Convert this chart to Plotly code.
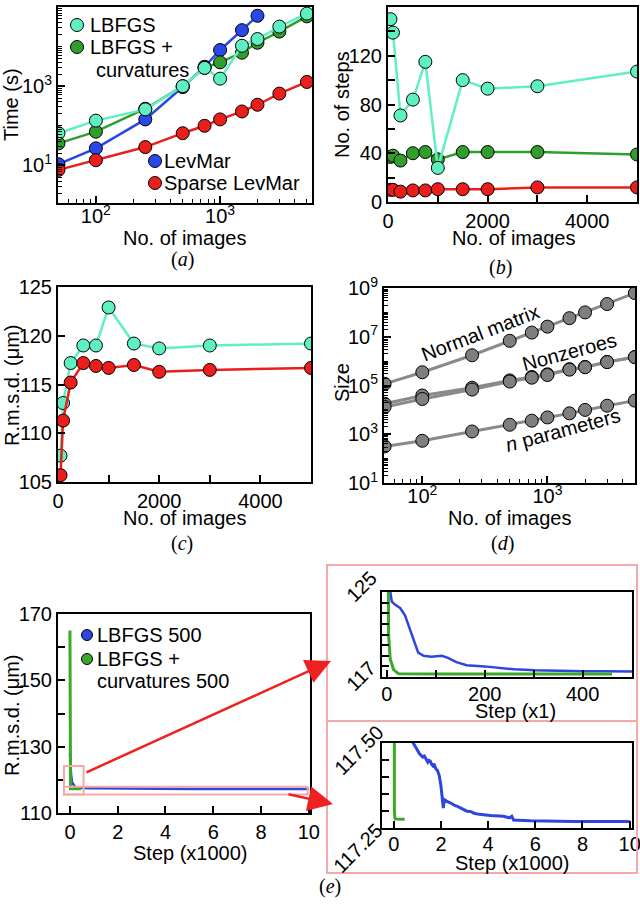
import plotly.graph_objects as go

W, H = 640, 905
SANS = "Liberation Sans, Arial, sans-serif"
SERIF = "Liberation Serif, Times New Roman, serif"

# ---------------- data ----------------
n_images = [50, 100, 250, 500, 750, 1000, 1500, 2000, 3000, 5000]
n_images_levmar = [50, 100, 250, 500, 750, 1000, 1500, 2000]

# (a) time (s)
time_lbfgs = [65, 135, 260, 1000, 2900, 1550, 10500, 15500, 32000, 68000]
time_lbfgs_curv = [36, 71, 270, 1000, 2900, 4000, 7000, 12500, 24000, 58000]
time_levmar = [10.7, 27, 145, 950, 3100, 8200, 26000, 60000]
time_sparse = [7.7, 13.5, 29, 65, 100, 145, 230, 340, 650, 1280]

# (b) number of steps
steps_lbfgs = [150, 139, 71, 84, 115, 28, 100, 93, 95, 107]
steps_curv = [37, 38, 34, 40, 41, 35, 41, 41, 41, 39]
steps_sparse = [10, 10, 8.5, 9.5, 9.5, 10.5, 10.5, 10.5, 12, 12]

# (c) r.m.s.d. (um)
rmsd_lbfgs = [107.7, 113.1, 117.2, 119.0, 119.0, 122.9, 119.2, 118.7, 119.0, 119.2]
rmsd_sparse = [105.7, 111.3, 115.2, 117.2, 116.9, 116.7, 117.0, 116.3, 116.5, 116.7]

# (d) sizes
size_normal = [1.17e5, 3.5e5, 1.74e6, 6.8e6, 1.48e7, 2.6e7, 5.8e7, 1.0e8, 2.2e8, 6.2e8]
size_nonzero_a = [17800, 39000, 81000, 162000, 224000, 288000, 468000, 575000, 933000, 1.48e6]
size_nonzero_b = [13200, 28000, 68000, 145000, 209000, 269000, 447000, 562000, 912000, 1.45e6]
size_nparams = [316, 540, 1300, 2450, 3600, 4900, 7200, 10000, 14800, 24000]

# (e) r.m.s.d. vs step (500 images)
blue_steps = [0, 3, 7, 10, 17, 27, 37, 44, 51, 58, 64, 75, 91, 112, 125, 142, 163, 200,
              234, 261, 302, 349, 403, 444, 500, 700, 810, 1020, 1100, 1160, 1230, 1300,
              1380, 1440, 1500, 1550, 1600, 1650, 1700, 1790, 1850, 1930, 2000, 2070, 2100,
              2140, 2250, 2300, 2420, 2500, 2600, 2700, 2840, 2950, 3100, 3250, 3400, 3550,
              3700, 3900, 4100, 4300, 4500, 4650, 4800, 4900, 5000, 5080, 5780, 7600, 10000]
blue_rmsd = [128.0, 126.0, 125.0, 124.1, 123.8, 123.5, 122.8, 121.9, 120.9, 119.9, 119.3,
             119.0, 118.9, 119.0, 118.8, 118.4, 118.1, 118.0, 117.86, 117.72, 117.64,
             117.58, 117.55, 117.53, 117.52, 117.51, 117.50, 117.472, 117.466, 117.462,
             117.457, 117.46, 117.448, 117.442, 117.447, 117.445, 117.436, 117.432, 117.437,
             117.422, 117.418, 117.402, 117.372, 117.327, 117.307, 117.332, 117.326, 117.325,
             117.322, 117.318, 117.314, 117.312, 117.307, 117.303, 117.298, 117.297, 117.292,
             117.290, 117.288, 117.287, 117.285, 117.284, 117.283, 117.283, 117.280, 117.278,
             117.283, 117.272, 117.270, 117.268, 117.268]
green_steps = [0, 2, 3.4, 6.8, 13.6, 24, 44, 64, 100, 200, 300, 460]
green_rmsd = [165, 128, 121, 118.7, 117.7, 117.3, 117.28, 117.275, 117.275, 117.275, 117.274, 117.274]

# tick values / labels
lin_ticks_images = [0, 2000, 4000]
lin_minor_images = [1000, 3000]
steps_ticks = [0, 40, 80, 120, 160]
steps_minor = [20, 60, 100, 140]
rmsd_ticks = [105, 110, 115, 120, 125]
e_x_ticks = [0, 2, 4, 6, 8, 10]
e_y_ticks = [110, 130, 150, 170]
e_y_minor = [120, 140, 160]
inset_top_x_ticks = [0, 200, 400]
inset_top_x_minor = [100, 300]
inset_top_y_ticks = [117, 118, 119, 120, 121, 122, 123, 124, 125]
inset_bot_y_ticks = [117.25, 117.30, 117.35, 117.40, 117.45, 117.50]
log_ticks_x = [100, 1000]
log_text_x = ["10<sup>2</sup>", "10<sup>3</sup>"]
log_ticks_a_y = [10, 1000, 1e5]
log_text_a_y = ["10<sup>1</sup>", "10<sup>3</sup>", "10<sup>5</sup>"]
log_ticks_d_y = [10, 1e3, 1e5, 1e7, 1e9]
log_text_d_y = ["10<sup>1</sup>", "10<sup>3</sup>", "10<sup>5</sup>", "10<sup>7</sup>", "10<sup>9</sup>"]
inset_top_labels = ["125", "117"]
inset_bot_labels = ["117.50", "117.25"]

# colours
C_AQUA = "#5ef0c3"
C_GREEN = "#2f9e2c"
C_BLUE = "#2848e8"
C_RED = "#ea1e1a"
C_GRAY = "#7f7f7f"
C_GRAYLINE = "#8a8a8a"
E_BLUE = "#2f45e0"
E_GREEN = "#3aa828"
PINK = "#f6a8a8"
ARROW = "#ee2020"


def dom_x(a, b):
    return [a / W, b / W]


def dom_y(top, bottom):
    return [1 - bottom / H, 1 - top / H]


def PX(x):
    return x / W


def PY(y):
    return 1 - y / H


def minor_log(lo, hi, skip=()):
    vals = []
    d = 1
    while d < hi * 10:
        for k in range(1, 10):
            v = k * d
            if lo <= v <= hi and v not in skip:
                vals.append(v)
        d *= 10
    return vals


def axis(**kw):
    base = dict(showline=True, linewidth=2, linecolor="black", mirror=True,
                ticks="inside", ticklen=7, tickwidth=1.5, tickcolor="black",
                showgrid=False, zeroline=False,
                tickfont=dict(size=20, family=SANS, color="black"))
    base.update(kw)
    return base


minor_small = dict(ticks="inside", ticklen=4, tickwidth=1, tickcolor="black")
minor_same = dict(ticks="inside", ticklen=7, tickwidth=1.5, tickcolor="black")

fig = go.Figure()


def line_marker(x, y, color, xa, ya, lw=2.5, msize=13):
    fig.add_trace(go.Scatter(x=x, y=y, mode="lines+markers", xaxis=xa, yaxis=ya,
                             line=dict(color=color, width=lw),
                             marker=dict(size=msize, color=color, line=dict(color="black", width=1)),
                             showlegend=False, hoverinfo="skip"))


# (a)
line_marker(n_images_levmar, time_levmar, C_BLUE, "x", "y")
line_marker(n_images, time_lbfgs_curv, C_GREEN, "x", "y")
line_marker(n_images, time_lbfgs, C_AQUA, "x", "y")
line_marker(n_images, time_sparse, C_RED, "x", "y")

# (b)
line_marker(n_images, steps_curv, C_GREEN, "x2", "y2")
line_marker(n_images, steps_lbfgs, C_AQUA, "x2", "y2")
line_marker(n_images, steps_sparse, C_RED, "x2", "y2")

# (c)
line_marker(n_images, rmsd_lbfgs, C_AQUA, "x3", "y3")
line_marker(n_images, rmsd_sparse, C_RED, "x3", "y3")

# (d)
for series in (size_normal, size_nonzero_a, size_nonzero_b, size_nparams):
    fig.add_trace(go.Scatter(x=n_images, y=series, mode="lines+markers", xaxis="x4", yaxis="y4",
                             line=dict(color=C_GRAYLINE, width=3),
                             marker=dict(size=13, color=C_GRAY, line=dict(color="black", width=1)),
                             showlegend=False, hoverinfo="skip"))

# (e) main + insets
blue_k = [s / 1000 for s in blue_steps]
green_k = [s / 1000 for s in green_steps]
for xa, ya, bx, gx, bw in (("x5", "y5", blue_k, green_k, 2.5),
                           ("x6", "y6", blue_steps, green_steps, 2.5),
                           ("x7", "y7", blue_k, green_k, 3)):
    fig.add_trace(go.Scatter(x=bx, y=blue_rmsd, mode="lines", xaxis=xa, yaxis=ya,
                             line=dict(color=E_BLUE, width=bw), showlegend=False, hoverinfo="skip"))
    fig.add_trace(go.Scatter(x=gx, y=green_rmsd, mode="lines", xaxis=xa, yaxis=ya,
                             line=dict(color=E_GREEN, width=3), showlegend=False, hoverinfo="skip"))

fig.update_layout(
    width=W, height=H, margin=dict(l=0, r=0, t=0, b=0, autoexpand=False),
    paper_bgcolor="white", plot_bgcolor="white",
    font=dict(family=SANS, size=20, color="black"),
    xaxis=axis(domain=dom_x(58, 312), type="log", range=[1.695, 3.74], anchor="y",
               tickvals=log_ticks_x, ticktext=log_text_x, ticklabelstandoff=-6,
               minor=dict(tickvals=minor_log(50, 6000, skip=(100, 1000)), **minor_small)),
    yaxis=axis(domain=dom_y(7, 203), type="log", range=[0.05, 5.0], anchor="x",
               tickvals=log_ticks_a_y, ticktext=log_text_a_y, ticklen=7,
               minor=dict(tickvals=minor_log(1, 1e5, skip=(10, 1000, 100000)), **minor_small)),
    xaxis2=axis(domain=dom_x(388, 637), range=[0, 5000], anchor="y2",
                tickvals=lin_ticks_images, minor=dict(tickvals=lin_minor_images, **minor_same)),
    yaxis2=axis(domain=dom_y(7, 202), range=[0, 160], anchor="x2",
                tickvals=steps_ticks, minor=dict(tickvals=steps_minor, **minor_same)),
    xaxis3=axis(domain=dom_x(58, 311), range=[0, 5000], anchor="y3",
                tickvals=lin_ticks_images, minor=dict(tickvals=lin_minor_images, **minor_same)),
    yaxis3=axis(domain=dom_y(287, 482), range=[105, 125], anchor="x3",
                tickvals=rmsd_ticks),
    xaxis4=axis(domain=dom_x(384, 635), type="log", range=[1.694, 3.70], anchor="y4",
                tickvals=log_ticks_x, ticktext=log_text_x, ticklabelstandoff=-6,
                minor=dict(tickvals=minor_log(50, 6000, skip=(100, 1000)), **minor_small)),
    yaxis4=axis(domain=dom_y(288, 483), type="log", range=[1, 9], anchor="x4",
                tickvals=log_ticks_d_y, ticktext=log_text_d_y, ticklen=7,
                minor=dict(tickvals=minor_log(10, 1e9, skip=(10, 1e3, 1e5, 1e7, 1e9)), **minor_small)),
    xaxis5=axis(domain=dom_x(58, 310), range=[-0.5, 10.05], anchor="y5",
                tickvals=e_x_ticks),
    yaxis5=axis(domain=dom_y(614, 813), range=[110, 170], anchor="x5",
                tickvals=e_y_ticks, minor=dict(tickvals=e_y_minor, **minor_same)),
    xaxis6=axis(domain=dom_x(382, 632), range=[-10, 501], anchor="y6", ticklabelstandoff=-2,
                tickvals=inset_top_x_ticks, minor=dict(tickvals=inset_top_x_minor, **minor_same)),
    yaxis6=axis(domain=dom_y(592, 677), range=[117, 125], anchor="x6",
                tickvals=inset_top_y_ticks, showticklabels=False),
    xaxis7=axis(domain=dom_x(382, 632), range=[-0.5, 10.1], anchor="y7", ticklabelstandoff=-3,
                ticklabeloverflow="allow", tickvals=e_x_ticks),
    yaxis7=axis(domain=dom_y(742.5, 827.5), range=[117.25, 117.5], anchor="x7",
                tickvals=inset_bot_y_ticks, showticklabels=False),
)

ann = []
shapes = []


def txt(x, y, s, size=20, xanchor="center", angle=0, family=SANS):
    ann.append(dict(x=PX(x), y=PY(y), xref="paper", yref="paper", text=s, showarrow=False,
                    xanchor=xanchor, yanchor="middle", textangle=angle,
                    font=dict(size=size, family=family, color="black")))


def dot(cx, cy, r, color):
    shapes.append(dict(type="circle", xref="paper", yref="paper",
                       x0=PX(cx - r), x1=PX(cx + r), y0=PY(cy + r), y1=PY(cy - r),
                       fillcolor=color, line=dict(color="black", width=1)))


def prect(x0, y0, x1, y1):
    shapes.append(dict(type="rect", xref="paper", yref="paper",
                       x0=PX(x0), x1=PX(x1), y0=PY(y1), y1=PY(y0),
                       line=dict(color=PINK, width=2)))


# axis titles
txt(11, 105, "Time (s)", angle=-90)
txt(184, 238, "No. of images")
txt(342, 105, "No. of steps", angle=-90)
txt(513, 238, "No. of images")
txt(12, 385, "R.m.s.d. (μm)", angle=-90)
txt(184, 518, "No. of images")
txt(342, 383, "Size", angle=-90)
txt(509, 518, "No. of images")
txt(12, 715, "R.m.s.d. (μm)", angle=-90)
txt(190, 853, "Step (x1000)")
txt(515, 711, "Step (x1)")
txt(512, 863, "Step (x1000)")

# panel labels
txt(182, 259, "(<i>a</i>)", family=SERIF)
txt(500, 267, "(<i>b</i>)", family=SERIF)
txt(182, 543, "(<i>c</i>)", family=SERIF)
txt(502, 543, "(<i>d</i>)", family=SERIF)
txt(330, 886, "(<i>e</i>)", family=SERIF)

# legend (a)
dot(77, 25, 6.5, C_AQUA)
txt(88, 25, "LBFGS", xanchor="left")
dot(77, 47, 6.5, C_GREEN)
txt(88, 47, "LBFGS +", xanchor="left")
txt(94, 70, "curvatures", xanchor="left")
dot(155, 161, 6.5, C_BLUE)
txt(162, 161, "LevMar", xanchor="left")
dot(155, 183, 6.5, C_RED)
txt(162, 183, "Sparse LevMar", xanchor="left")

# legend (e)
dot(87, 635, 5.5, E_BLUE)
txt(95, 635, "LBFGS 500", xanchor="left")
dot(87, 659, 5.5, E_GREEN)
txt(95, 659, "LBFGS +", xanchor="left")
txt(95, 681, "curvatures 500", xanchor="left")

# (d) curve labels
txt(480, 333, "Normal matrix", angle=-21)
txt(569, 352, "Nonzeroes", angle=-15)
txt(563, 430, "<i>n</i> parameters", angle=-15)

# inset rotated tick labels
txt(361, 587, inset_top_labels[0], angle=-45)
txt(361, 676, inset_top_labels[1], angle=-45)
txt(359, 750, inset_bot_labels[0], angle=-45)
txt(358, 848, inset_bot_labels[1], angle=-45)

# pink zoom boxes on main (e)
shapes.append(dict(type="rect", xref="x5", yref="y5", x0=-0.25, x1=0.57, y0=115.6, y1=124.2,
                   line=dict(color=PINK, width=2)))
shapes.append(dict(type="rect", xref="x5", yref="y5", x0=-0.25, x1=9.95, y0=115.6, y1=117.9,
                   line=dict(color=PINK, width=2)))
prect(327, 565, 637, 721)
prect(327, 721, 637, 873)

# arrows
ann.append(dict(x=PX(331), y=PY(661), xref="paper", yref="paper", ax=85 - 331, ay=773 - 661,
                axref="pixel", ayref="pixel", showarrow=True, arrowhead=2, arrowsize=2,
                arrowwidth=2.5, arrowcolor=ARROW, text=""))
ann.append(dict(x=PX(333), y=PY(804), xref="paper", yref="paper", ax=287 - 333, ay=794 - 804,
                axref="pixel", ayref="pixel", showarrow=True, arrowhead=2, arrowsize=2,
                arrowwidth=2.5, arrowcolor=ARROW, text=""))

fig.update_layout(annotations=ann, shapes=shapes)
fig.write_html("out.html", config={"displayModeBar": False},
               post_script="document.body.style.margin='0';document.body.style.padding='0';"
                           "document.body.style.overflow='hidden';")
